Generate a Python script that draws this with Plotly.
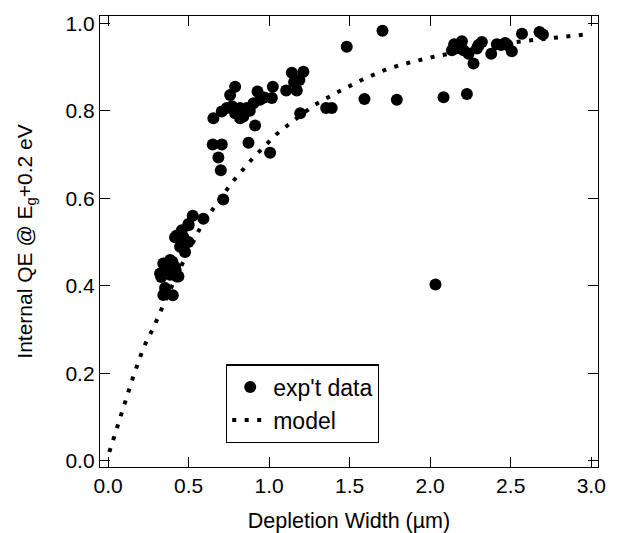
import plotly.graph_objects as go

# Experimental data: depletion width (um) and internal QE
data_x = [0.323, 0.343, 0.364, 0.385, 0.416, 0.385, 0.427, 0.437, 0.354, 0.343, 0.402, 0.33, 0.37, 0.40, 0.42,
          0.416, 0.458, 0.468, 0.447, 0.499, 0.478, 0.499, 0.526, 0.592, 0.464, 0.427, 0.50,
          0.715, 0.685, 0.700, 0.650, 0.706, 0.872, 1.006, 0.913,
          0.654, 0.706, 0.737, 0.758, 0.789, 0.789, 0.820, 0.840, 0.820, 0.861, 0.903, 0.928, 0.944, 1.017, 1.023,
          0.77, 0.80, 0.88, 0.97,
          1.106, 1.141, 1.155, 1.172, 1.188, 1.213, 1.193,
          1.354, 1.389, 1.482, 1.592, 1.704, 1.793, 2.033, 2.083, 2.228,
          2.135, 2.149, 2.197, 2.207, 2.238, 2.269, 2.290, 2.321, 2.379, 2.414, 2.466, 2.507, 2.570, 2.679, 2.700,
          2.17, 2.44, 2.48, 2.30]
data_y = [0.428, 0.451, 0.438, 0.459, 0.443, 0.425, 0.421, 0.421, 0.395, 0.379, 0.378, 0.420, 0.450, 0.455, 0.435,
          0.511, 0.527, 0.511, 0.489, 0.500, 0.477, 0.541, 0.560, 0.553, 0.489, 0.515, 0.538,
          0.597, 0.693, 0.664, 0.723, 0.723, 0.727, 0.704, 0.766,
          0.783, 0.798, 0.806, 0.836, 0.855, 0.794, 0.806, 0.787, 0.783, 0.806, 0.817, 0.844, 0.825, 0.829, 0.855,
          0.810, 0.800, 0.800, 0.830,
          0.846, 0.887, 0.865, 0.846, 0.870, 0.889, 0.794,
          0.806, 0.806, 0.946, 0.827, 0.983, 0.825, 0.403, 0.831, 0.838,
          0.938, 0.952, 0.959, 0.938, 0.930, 0.908, 0.942, 0.957, 0.930, 0.952, 0.955, 0.936, 0.976, 0.980, 0.974,
          0.945, 0.950, 0.950, 0.950]

# Model curve
model_x = [0.008, 0.06, 0.108, 0.157, 0.211, 0.242, 0.282, 0.315, 0.348, 0.45, 0.565, 0.665, 0.772, 0.905,
           1.048, 1.126, 1.2, 1.28, 1.433, 1.584, 1.737, 1.89, 2.042, 2.2, 2.4, 2.576, 2.731, 2.882, 2.958, 3.0]
model_y = [0.020, 0.082, 0.137, 0.193, 0.249, 0.276, 0.304, 0.333, 0.360, 0.442, 0.527, 0.583, 0.637, 0.694,
           0.747, 0.770, 0.792, 0.813, 0.844, 0.872, 0.896, 0.912, 0.925, 0.937, 0.950, 0.959, 0.966, 0.971, 0.974, 0.975]

x_ticks = [0.0, 0.5, 1.0, 1.5, 2.0, 2.5, 3.0]
x_ticklabels = ["0.0", "0.5", "1.0", "1.5", "2.0", "2.5", "3.0"]
y_ticks = [0.0, 0.2, 0.4, 0.6, 0.8, 1.0]
y_ticklabels = ["0.0", "0.2", "0.4", "0.6", "0.8", "1.0"]

FONT = "Liberation Sans, Arial, sans-serif"

fig = go.Figure()
fig.add_trace(go.Scatter(x=data_x, y=data_y, mode="markers", name="exp't data",
                         marker=dict(color="black", size=12, line=dict(width=0))))
fig.add_trace(go.Scatter(x=model_x, y=model_y, mode="lines", name="model",
                         line=dict(color="black", width=4, dash="4px,8.5px")))

axis_common = dict(showgrid=False, zeroline=False, showline=True, linecolor="black", linewidth=1.3,
                   ticks="inside", ticklen=10, tickwidth=1, tickcolor="black", mirror="ticks",
                   ticklabeloverflow="allow",
                   tickfont=dict(family=FONT, size=21, color="black"))

fig.update_xaxes(range=[-0.05, 3.042], tickvals=x_ticks, ticktext=x_ticklabels,
                 title=dict(text="Depletion Width (µm)", font=dict(family=FONT, size=21.5, color="black"), standoff=16),
                 **axis_common)
fig.update_yaxes(range=[-0.0143, 1.0165], tickvals=y_ticks, ticktext=y_ticklabels,
                 title=dict(text="Internal QE @ E<sub>g</sub>+0.2 eV", font=dict(family=FONT, size=21, color="black"), standoff=27),
                 **axis_common)

fig.update_layout(
    width=610, height=525, autosize=False,
    margin=dict(l=92, r=20, t=4, b=66),
    plot_bgcolor="white", paper_bgcolor="white",
    font=dict(family=FONT, size=21, color="black"),
    legend=dict(x=0.253, y=0.14, xanchor="left", yanchor="middle",
                bordercolor="black", borderwidth=1.2, bgcolor="white",
                font=dict(family=FONT, size=23, color="black"),
                tracegroupgap=0, itemwidth=36),
    showlegend=True,
)

fig.write_html("out.html")
